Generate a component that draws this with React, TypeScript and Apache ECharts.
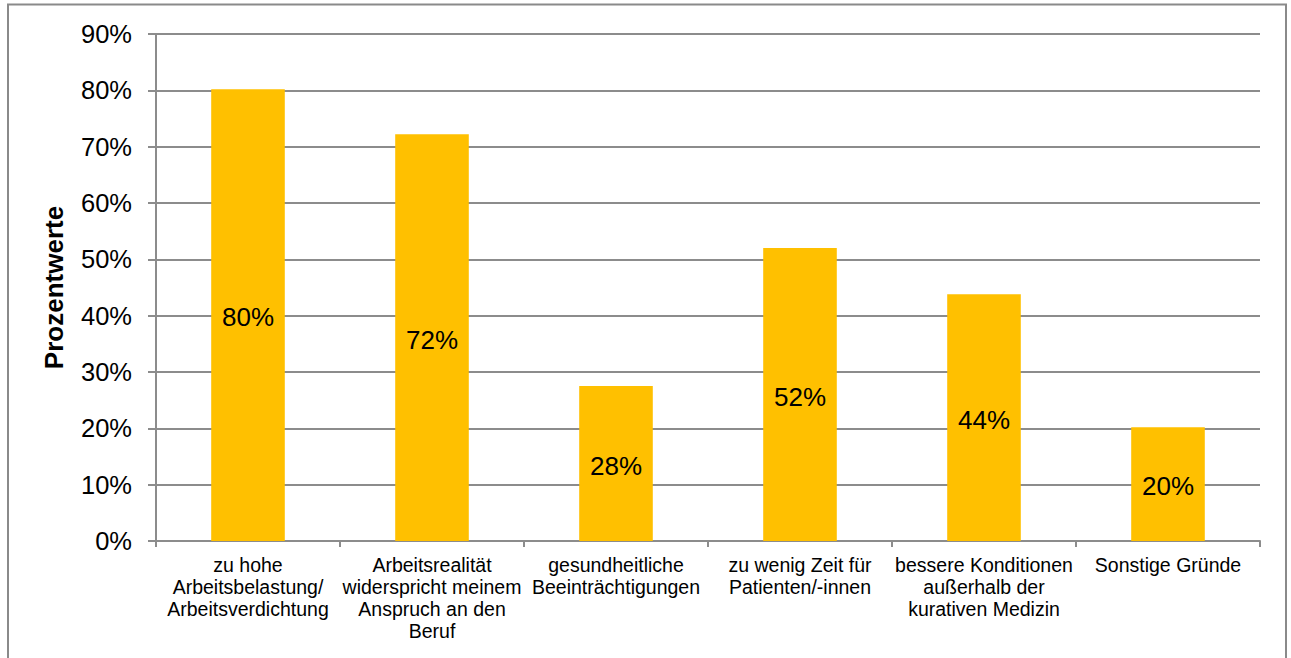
import React, { useEffect, useRef } from "react";
import * as echarts from "echarts";

const categories = [
  "zu hohe\nArbeitsbelastung/\nArbeitsverdichtung",
  "Arbeitsrealität\nwiderspricht meinem\nAnspruch an den\nBeruf",
  "gesundheitliche\nBeeinträchtigungen",
  "zu wenig Zeit für\nPatienten/-innen",
  "bessere Konditionen\naußerhalb der\nkurativen Medizin",
  "Sonstige Gründe",
];
const values = [80.2, 72.2, 27.5, 52.0, 43.8, 20.2];
const yAxisName = "Prozentwerte";

const FONT = "Arial, 'Liberation Sans', sans-serif";

export default function App() {
  const ref = useRef<HTMLDivElement>(null);
  useEffect(() => {
    if (!ref.current) return;
    const chart = echarts.init(ref.current, undefined, { renderer: "svg" });
    chart.setOption({
      animation: false,
      backgroundColor: "#fff",
      textStyle: { fontFamily: FONT },
      graphic: [
        {
          type: "rect",
          shape: { x: 8, y: 4.5, width: 1278, height: 700 },
          style: { fill: "none", stroke: "#8a8a8a", lineWidth: 2 },
          silent: true,
        },
      ],
      grid: { left: 156, right: 31, top: 34, bottom: 117 },
      xAxis: {
        type: "category",
        data: categories,
        axisLine: { lineStyle: { color: "#8c8c8c", width: 2 } },
        axisTick: { show: true, length: 6, lineStyle: { color: "#8c8c8c", width: 2 } },
        axisLabel: {
          interval: 0,
          color: "#000",
          fontSize: 19.5,
          lineHeight: 22,
          margin: 13,
          fontFamily: FONT,
        },
      },
      yAxis: {
        type: "value",
        min: 0,
        max: 90,
        interval: 10,
        name: yAxisName,
        nameLocation: "middle",
        nameRotate: 90,
        nameGap: 89,
        nameTextStyle: { fontSize: 26, fontWeight: "bold", color: "#000", fontFamily: FONT },
        axisLine: { show: true, lineStyle: { color: "#8c8c8c", width: 2 } },
        axisTick: { show: true, length: 8, inside: false, lineStyle: { color: "#8c8c8c", width: 2 } },
        splitLine: { show: true, lineStyle: { color: "#8c8c8c", width: 2 } },
        axisLabel: {
          formatter: "{value}%",
          color: "#000",
          fontSize: 25.5,
          margin: 24,
          fontFamily: FONT,
        },
      },
      series: [
        {
          type: "bar",
          data: values,
          barWidth: "40%",
          itemStyle: { color: "#FFC000" },
          label: {
            show: true,
            position: "inside",
            offset: [0, 2],
            color: "#000",
            fontSize: 26,
            fontFamily: FONT,
            formatter: (p: any) => Math.round(p.value) + "%",
          },
        },
      ],
    });
    return () => chart.dispose();
  }, []);
  return (
    <div
      ref={ref}
      style={{ position: "absolute", left: 0, top: 0, width: 1291, height: 658 }}
    />
  );
}
